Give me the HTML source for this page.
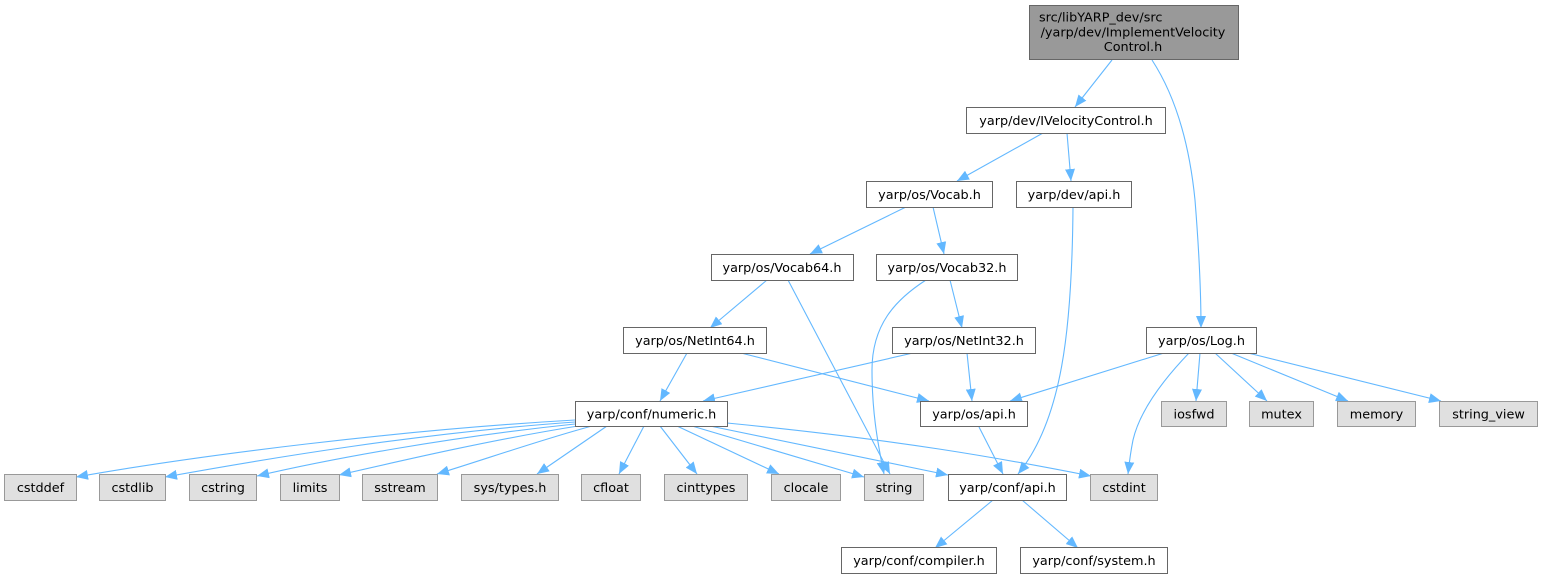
<!DOCTYPE html>
<html><head><meta charset="utf-8">
<style>
html,body{margin:0;padding:0;background:#fff;}
svg{display:block;}
text{font-family:"DejaVu Sans","Liberation Sans",sans-serif;font-size:12.8px;fill:#000;}
</style></head>
<body>
<svg width="1543" height="579" viewBox="0 0 1543 579" xmlns="http://www.w3.org/2000/svg">
<defs>
<marker id="a" markerWidth="12" markerHeight="10" refX="12" refY="5" orient="auto" markerUnits="userSpaceOnUse">
<path d="M0,0 L12,5 L0,10 z" fill="#63b8ff"/>
</marker>
</defs>
<g fill="none" stroke="#63b8ff" stroke-width="1.1" marker-end="url(#a)">
<path d="M1112,60 L1075,107"/>
<path d="M1152,60 C1178,100 1190,150 1195,200 C1199,250 1201,290 1201,328"/>
<path d="M1043,133 L957,181"/>
<path d="M1067,133 L1071,181"/>
<path d="M906,207 L810,254"/>
<path d="M933,207 L944,254"/>
<path d="M767,280 L710,328"/>
<path d="M788,280 L890,474"/>
<path d="M926,280 C895,300 872,325 872,370 C872,410 877,440 884,474"/>
<path d="M950,280 L962,328"/>
<path d="M687,353 L660,401"/>
<path d="M741,353 L929,401"/>
<path d="M913,353 L703,401"/>
<path d="M967,353 L972,401"/>
<path d="M1164,353 L1010,401"/>
<path d="M1189,353 C1165,378 1140,410 1133,440 C1130,455 1129,465 1128,474"/>
<path d="M1200,353 L1196,401"/>
<path d="M1215,353 L1267,401"/>
<path d="M1231,353 L1348,401"/>
<path d="M1248,353 L1441,401"/>
<path d="M979,427 L1003,474"/>
<path d="M1073,207 C1072,330 1062,420 1018,474"/>
<path d="M575,420 C400,430 200,455 76,477"/>
<path d="M575,422 C420,433 270,458 165,477"/>
<path d="M575,424 C450,437 330,459 257,476"/>
<path d="M578,426 C490,440 400,461 339,475"/>
<path d="M592,426 C540,440 480,461 437,474"/>
<path d="M607,426 L537,474"/>
<path d="M644,426 L619,474"/>
<path d="M660,426 L697,474"/>
<path d="M677,426 L779,474"/>
<path d="M692,426 L864,477"/>
<path d="M710,426 L948,475"/>
<path d="M727,423 C900,440 1000,458 1091,476"/>
<path d="M993,500 L935,548"/>
<path d="M1022,500 L1078,548"/>
</g>

<g fill="#fff" stroke="#666" stroke-width="1">
<rect x="1029.5" y="5.5" width="209" height="54" fill="#999"/>
<rect x="966.5" y="107.5" width="199" height="26"/>
<rect x="866.5" y="181.5" width="126" height="26"/>
<rect x="1016.5" y="181.5" width="115" height="26"/>
<rect x="711.5" y="254.5" width="142" height="26"/>
<rect x="876.5" y="254.5" width="141" height="26"/>
<rect x="623.5" y="327.5" width="143" height="26"/>
<rect x="892.5" y="327.5" width="143" height="26"/>
<rect x="1146.5" y="327.5" width="110" height="26"/>
<rect x="575.5" y="401.5" width="152" height="25"/>
<rect x="920.5" y="401.5" width="107" height="25"/>
<rect x="948.5" y="474.5" width="118" height="26"/>
<rect x="841.5" y="547.5" width="155" height="26"/>
<rect x="1020.5" y="547.5" width="147" height="26"/>
</g>
<g fill="#e0e0e0" stroke="#999" stroke-width="1">
<rect x="1161.5" y="401.5" width="65" height="25"/>
<rect x="1249.5" y="401.5" width="64" height="25"/>
<rect x="1337.5" y="401.5" width="78" height="25"/>
<rect x="1439.5" y="401.5" width="98" height="25"/>
<rect x="4.5" y="474.5" width="72" height="26"/>
<rect x="99.5" y="474.5" width="66" height="26"/>
<rect x="189.5" y="474.5" width="67" height="26"/>
<rect x="280.5" y="474.5" width="59" height="26"/>
<rect x="362.5" y="474.5" width="75" height="26"/>
<rect x="461.5" y="474.5" width="97" height="26"/>
<rect x="581.5" y="474.5" width="59" height="26"/>
<rect x="664.5" y="474.5" width="83" height="26"/>
<rect x="771.5" y="474.5" width="69" height="26"/>
<rect x="864.5" y="474.5" width="59" height="26"/>
<rect x="1090.5" y="474.5" width="67" height="26"/>
</g>

<g text-anchor="middle">
<text x="1039" y="21.5" text-anchor="start">src/libYARP_dev/src</text>
<text x="1133" y="36.3">/yarp/dev/ImplementVelocity</text>
<text x="1133" y="51">Control.h</text>
<text x="1066" y="125">yarp/dev/IVelocityControl.h</text>
<text x="929.5" y="199">yarp/os/Vocab.h</text>
<text x="1074" y="199">yarp/dev/api.h</text>
<text x="782" y="272">yarp/os/Vocab64.h</text>
<text x="947" y="272">yarp/os/Vocab32.h</text>
<text x="695" y="345">yarp/os/NetInt64.h</text>
<text x="964" y="345">yarp/os/NetInt32.h</text>
<text x="1201.5" y="345">yarp/os/Log.h</text>
<text x="651.5" y="418.5">yarp/conf/numeric.h</text>
<text x="974" y="418.5">yarp/os/api.h</text>
<text x="1194" y="418.5">iosfwd</text>
<text x="1281.5" y="418.5">mutex</text>
<text x="1376.5" y="418.5">memory</text>
<text x="1488.5" y="418.5">string_view</text>
<text x="40.5" y="492">cstddef</text>
<text x="132.5" y="492">cstdlib</text>
<text x="223" y="492">cstring</text>
<text x="310" y="492">limits</text>
<text x="400" y="492">sstream</text>
<text x="510" y="492">sys/types.h</text>
<text x="611" y="492">cfloat</text>
<text x="706" y="492">cinttypes</text>
<text x="806" y="492">clocale</text>
<text x="894" y="492">string</text>
<text x="1007.5" y="492">yarp/conf/api.h</text>
<text x="1124" y="492">cstdint</text>
<text x="919" y="565">yarp/conf/compiler.h</text>
<text x="1094" y="565">yarp/conf/system.h</text>
</g>
</svg>
</body></html>
